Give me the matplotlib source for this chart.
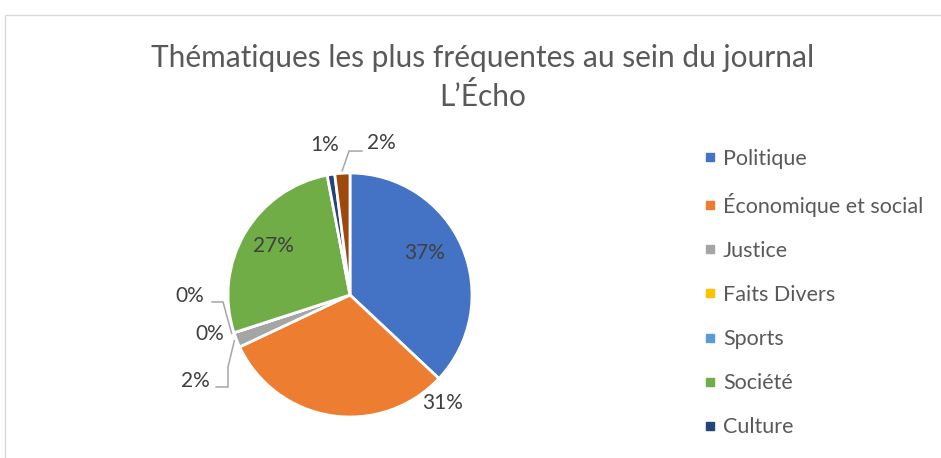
import numpy as np
import matplotlib.pyplot as plt
from matplotlib.patches import Rectangle
from matplotlib.lines import Line2D

plt.rcParams['font.family'] = ['Lato', 'DejaVu Sans']

# data
categories = ['Politique', 'Économique et social', 'Justice', 'Faits Divers',
              'Sports', 'Société', 'Culture', 'Autres']
values = [37, 31, 2, 0, 0, 27, 1, 2]
legend_count = 7  # the 8th entry is cut off in the original legend
colors = ['#4472C4', '#ED7D31', '#A5A5A5', '#FFC000',
          '#5B9BD5', '#70AD47', '#264478', '#9E480E']

W, H = 941, 458
fig = plt.figure(figsize=(W / 100, H / 100), dpi=100)

# frame of the excel chart area (cut at right/bottom)
fig.add_artist(Rectangle((5 / W, -0.1), 2, 1 - 15 / H + 0.1,
                         transform=fig.transFigure, fill=False,
                         edgecolor='#D9D9D9', lw=1))

# pie axes: centre at (350, 295) px, radius 122 px
R = 122
size = 400
ax = fig.add_axes([(350 - size / 2) / W, (H - 295 - size / 2) / H,
                   size / W, size / H])

wedges, _ = ax.pie(values, colors=colors, startangle=90, counterclock=False,
                   radius=1, wedgeprops=dict(edgecolor='white', linewidth=2))
lim = size / 2 / R
ax.set_xlim(-lim, lim)
ax.set_ylim(-lim, lim)
ax.set_aspect('equal')
ax.axis('off')

# label positions (text centre, in radius units)
label_pos = [(0.615, 0.344), (0.762, -0.885), (-1.27, -0.705), (-1.148, -0.32),
             (-1.31, -0.008), (-0.63, 0.40), (-0.205, 1.23), (0.254, 1.246)]
# leader line bends (after the wedge edge point), None = no leader
leader_paths = [None, None,
                [(-1.0, -0.59), (-1.0, -0.754), (-1.098, -0.754)],
                None,
                [(-1.041, -0.057), (-1.131, -0.057)],
                None, None,
                [(-0.008, 1.18), (0.098, 1.18)]]

total = sum(values)
start = 90
for i, v in enumerate(values):
    theta1 = start - 360 * sum(values[:i]) / total
    theta2 = start - 360 * sum(values[:i + 1]) / total
    mid = np.deg2rad((theta1 + theta2) / 2)
    tx, ty = label_pos[i]
    ax.text(tx, ty, f'{v / total:.0%}', ha='center', va='center',
            fontsize=15, color='#404040')
    if leader_paths[i] is not None:
        pts = [(np.cos(mid) * 1.02, np.sin(mid) * 1.02)] + leader_paths[i]
        xs, ys = zip(*pts)
        ax.plot(xs, ys, color='#A6A6A6', lw=1.1, solid_joinstyle='miter')

fig.text(483 / W, 1 - 58 / H, 'Thématiques les plus fréquentes au sein du journal',
         ha='center', va='center', fontsize=21.5, color='#595959')
fig.text(483 / W, 1 - 97 / H, 'L\u2019Écho',
         ha='center', va='center', fontsize=21.5, color='#595959')

handles = [Line2D([], [], marker='s', linestyle='none', markersize=5.5,
                  markerfacecolor=colors[i], markeredgecolor=colors[i])
           for i in range(legend_count)]
fig.legend(handles, categories[:legend_count], loc='upper left',
           bbox_to_anchor=(695 / W, 1 - 140 / H), frameon=False,
           fontsize=15.5, labelcolor='#595959', handlelength=0.6,
           handletextpad=0.3, labelspacing=1.12, borderaxespad=0)

fig.savefig('out.png', dpi=100)
